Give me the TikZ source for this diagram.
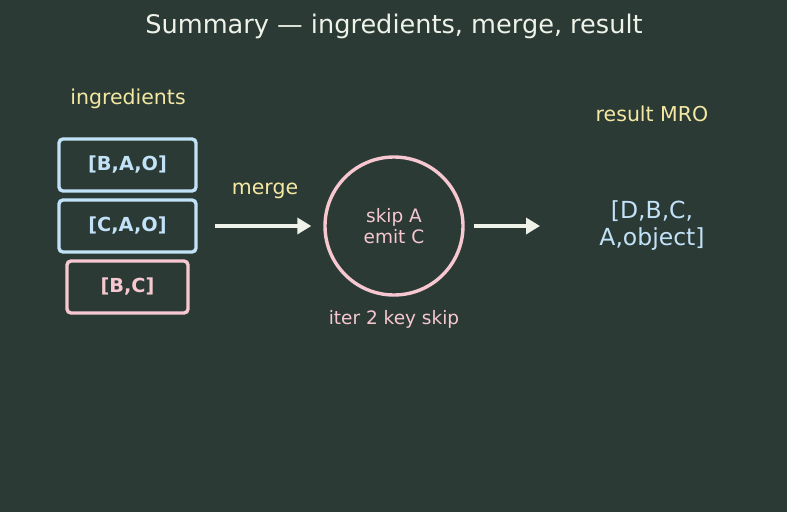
\documentclass[tikz,border=0pt]{standalone}
\usepackage{fontspec}
\setmainfont{DejaVu Sans}
\usetikzlibrary{arrows.meta, positioning}
\definecolor{bgdark}{HTML}{2B3A35}
\definecolor{lblue}{HTML}{C2E2F7}
\definecolor{lpink}{HTML}{F7C8D2}
\definecolor{lyellow}{HTML}{F4E8A2}
\definecolor{lwhite}{HTML}{EEF2E8}
\begin{document}
\begin{tikzpicture}[x=1pt, y=-1pt, >=Stealth,
    listbox/.style={draw, line width=3.4pt, rounded corners=4pt, minimum height=52pt,
      font=\fontsize{19.3}{24}\selectfont\bfseries},
    flow/.style={line width=3.4pt, lwhite, arrows={-Stealth[length=14pt, width=16pt, inset=0pt]}},
    caption/.style={font=\fontsize{20.5}{24}\selectfont, lyellow}]
  % background and page size
  \fill[bgdark] (0,0) rectangle (787,512);
  \useasboundingbox (0,0) rectangle (787,512);
  \node[lwhite, font=\fontsize{25.6}{30}\selectfont] (title) at (394,26) {Summary — ingredients, merge, result};
  % ingredients
  \node[caption] (ingr) at (128,99) {ingredients};
  \node[listbox, lblue, minimum width=137pt] (bao) at (127.5,165) {[B,A,O]};
  \node[listbox, lblue, minimum width=137pt] (cao) at (127.5,226) {[C,A,O]};
  \node[listbox, lpink, minimum width=121pt] (bc) at (127.5,287) {[B,C]};
  % merge step
  \node[caption] (mergelbl) at (265,191) {merge};
  \node[draw, circle, lpink, line width=3.4pt, minimum size=138pt, align=center,
    font=\fontsize{18.5}{21}\selectfont] (iter) at (394,226) {skip A\\emit C};
  \node[lpink, font=\fontsize{18.5}{22}\selectfont] (iterlbl) at (394,319) {iter 2 key skip};
  % result
  \node[caption] (reslbl) at (652,114) {result MRO};
  \node[lblue, align=center, font=\fontsize{23.5}{27}\selectfont] (mro) at (652,226) {[D,B,C,\\A,object]};
  \coordinate (a1) at (215,226);
  \coordinate (a2) at (540,226);
  \draw[flow, shorten >=12pt] (a1) -- (iter.west);
  \draw[flow] (iter.east) ++(9,0) -- (a2);
\end{tikzpicture}
\end{document}
